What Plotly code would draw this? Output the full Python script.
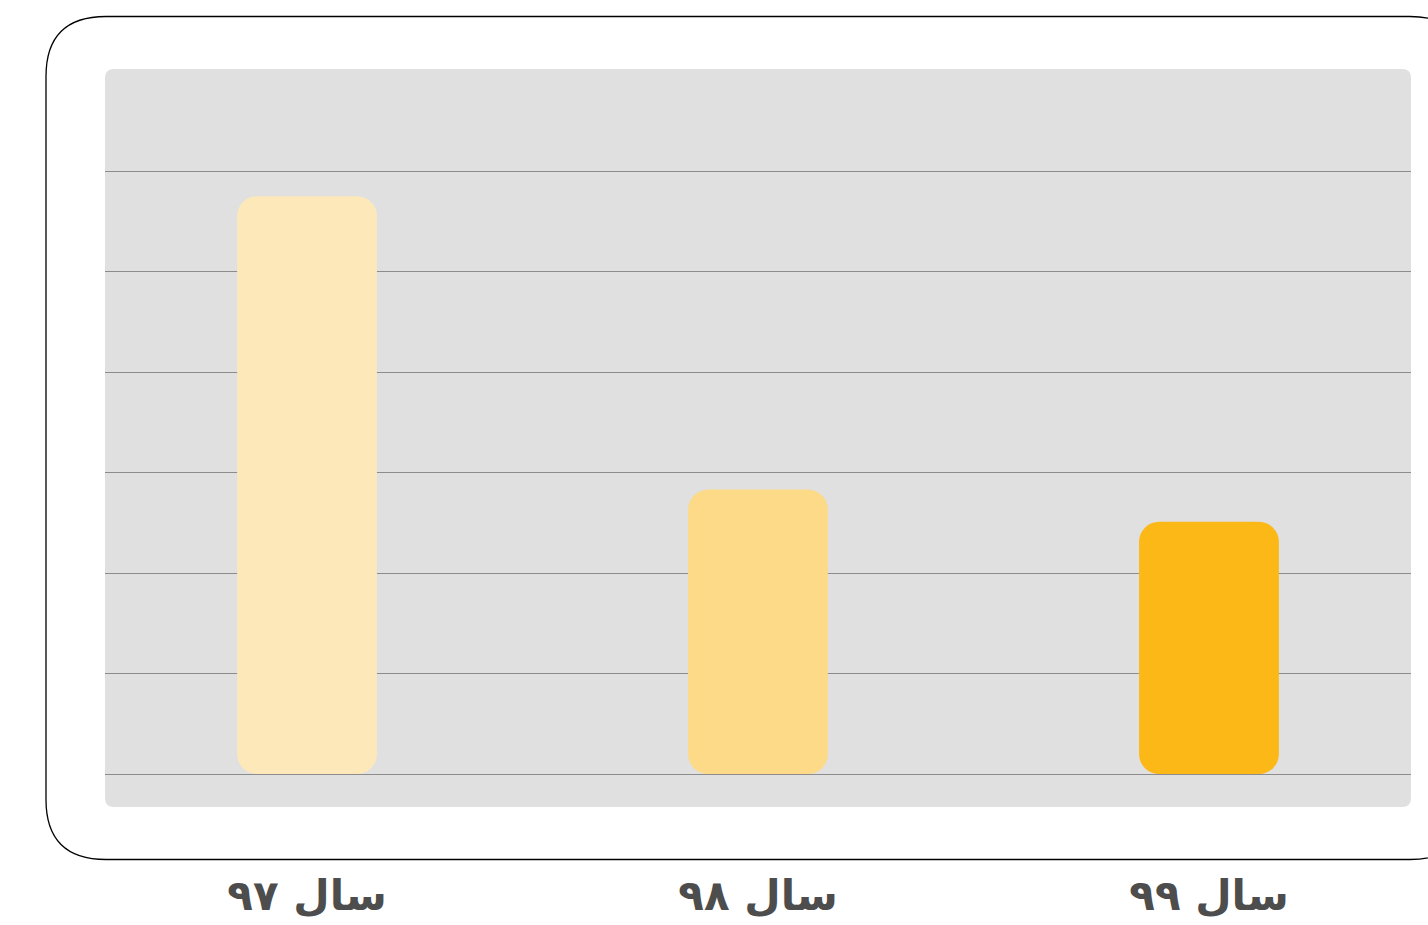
import plotly.graph_objects as go

# ---- data ----
categories = ["سال ۹۷", "سال ۹۸", "سال ۹۹"]
values = [5.75, 2.83, 2.51]
colors = ["#FDE8B9", "#FDDA88", "#FBB816"]
grid_ticks = [0, 1, 2, 3, 4, 5, 6]

# ---- layout geometry (pixels) ----
W, H = 1428, 925
L, R, T, B = 105, 1411, 69, 807  # plot area edges


def px2paper(x, y):
    return (x - L) / (R - L), (B - y) / (B - T)


def rounded_rect(x0, y0, x1, y1, r):
    def P(x, y):
        px, py = px2paper(x, y)
        return f"{px:.5f},{py:.5f}"
    return (
        f"M {P(x0 + r, y0)} L {P(x1 - r, y0)} Q {P(x1, y0)} {P(x1, y0 + r)} "
        f"L {P(x1, y1 - r)} Q {P(x1, y1)} {P(x1 - r, y1)} "
        f"L {P(x0 + r, y1)} Q {P(x0, y1)} {P(x0, y1 - r)} "
        f"L {P(x0, y0 + r)} Q {P(x0, y0)} {P(x0 + r, y0)} Z"
    )


xs = list(range(len(categories)))

fig = go.Figure()
fig.add_trace(go.Bar(
    x=xs, y=values, base=[0] * len(values), width=0.31,
    marker=dict(color=colors, cornerradius=20, line=dict(width=0)),
    hoverinfo="skip", showlegend=False,
))

fig.update_layout(
    width=W, height=H, autosize=False,
    margin=dict(l=L, r=W - R, t=T, b=H - B, pad=0, autoexpand=False),
    paper_bgcolor="white",
    plot_bgcolor="rgba(0,0,0,0)",
    showlegend=False,
    shapes=[
        dict(type="path", xref="paper", yref="paper",
             path=rounded_rect(L, T, R, B, 9),
             fillcolor="#E0E0E0", line=dict(width=0), layer="below"),
        dict(type="path", xref="paper", yref="paper",
             path=rounded_rect(46, 16.5, 1470, 859.5, 60),
             fillcolor="rgba(0,0,0,0)", line=dict(color="black", width=1.3), layer="above"),
    ],
)

fig.update_xaxes(
    range=[-0.448, 2.448],
    tickvals=xs, ticktext=categories,
    showgrid=False, zeroline=False, showline=False, ticks="",
    tickfont=dict(family="DejaVu Sans", size=42, color="#4D4D4D", weight="bold"),
    ticklabelstandoff=60, automargin=False,
)
fig.update_yaxes(
    range=[-0.328, 7.015],
    tickvals=grid_ticks, showticklabels=False,
    showgrid=True, gridcolor="#8C8C8C", gridwidth=1,
    zeroline=True, zerolinecolor="#8C8C8C", zerolinewidth=1,
    showline=False, ticks="", automargin=False,
)

fig.write_html(
    "out.html",
    config={"displayModeBar": False, "responsive": False},
    post_script="document.body.style.margin='0';document.body.style.overflow='hidden';",
)
